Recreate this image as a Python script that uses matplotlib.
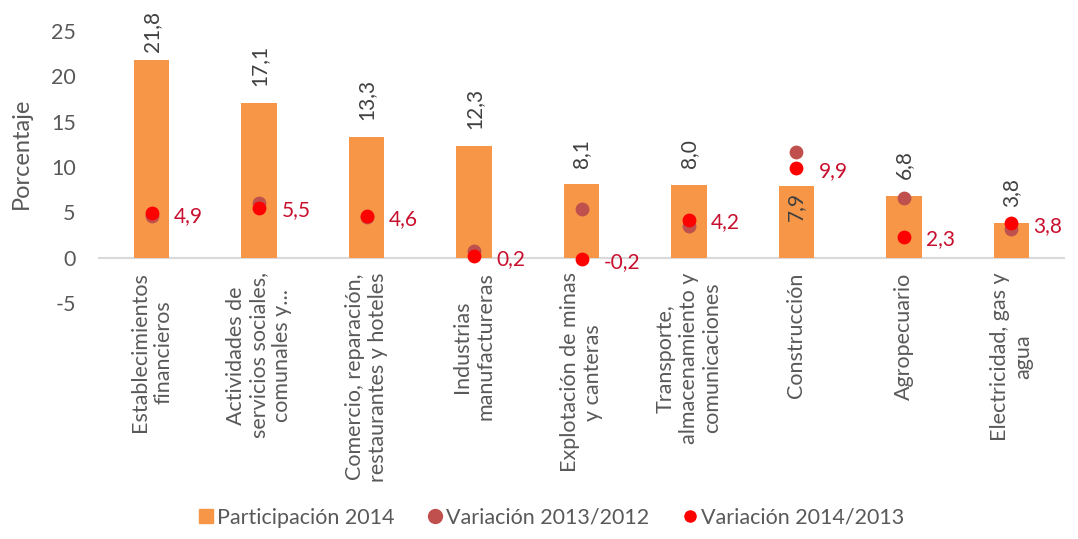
import matplotlib.pyplot as plt
from matplotlib.lines import Line2D
import numpy as np

categories = [
    "Establecimientos\nfinancieros",
    "Actividades de\nservicios sociales,\ncomunales y...",
    "Comercio, reparación,\nrestaurantes y hoteles",
    "Industrias\nmanufactureras",
    "Explotación de minas\ny canteras",
    "Transporte,\nalmacenamiento y\ncomunicaciones",
    "Construcción",
    "Agropecuario",
    "Electricidad, gas y\nagua",
]
participacion_2014 = [21.8, 17.1, 13.3, 12.3, 8.1, 8.0, 7.9, 6.8, 3.8]
variacion_2013_2012 = [4.6, 6.0, 4.5, 0.7, 5.4, 3.5, 11.6, 6.6, 3.2]
variacion_2014_2013 = [4.9, 5.5, 4.6, 0.2, -0.2, 4.2, 9.9, 2.3, 3.8]
yticks = [-5, 0, 5, 10, 15, 20, 25]

BAR = "#F79646"
DARK = "#C0504D"
RED = "#FF0000"
LABEL_RED = "#C8102E"
GRAY = "#595959"

plt.rcParams["font.family"] = ["Lato", "DejaVu Sans"]
plt.rcParams["axes.unicode_minus"] = False

fig = plt.figure(figsize=(10.78, 5.39), dpi=100)
ax = fig.add_axes([98 / 1078, 1 - 303 / 539, 967 / 1078, 272 / 539])

x = np.arange(len(categories))
ax.bar(x, participacion_2014, width=0.33, color=BAR, zorder=2)
ax.scatter(x, variacion_2013_2012, s=80, color=DARK, zorder=3)
ax.scatter(x, variacion_2014_2013, s=80, color=RED, zorder=4)


def fmt(v):
    return f"{v:.1f}".replace(".", ",")


for xi, v in zip(x, participacion_2014):
    if categories[xi] == "Construcción":
        ax.annotate(fmt(v), (xi, v), xytext=(0, -4), textcoords="offset points",
                    rotation=90, ha="center", va="top", fontsize=15, color="#404040", zorder=5)
    else:
        off = 6 if v > 20 else 12
        ax.annotate(fmt(v), (xi, v), xytext=(0, off), textcoords="offset points",
                    rotation=90, ha="center", va="bottom", fontsize=15, color="#404040",
                    annotation_clip=False)

for xi, v in zip(x, variacion_2014_2013):
    ax.annotate(fmt(v), (xi, v), xytext=(16, -2), textcoords="offset points",
                ha="left", va="center", fontsize=15, color=LABEL_RED)

ax.set_xlim(-0.5, len(categories) - 0.5)
ax.set_ylim(-5, 25)
ax.set_yticks(yticks)
ax.tick_params(axis="y", length=0, labelsize=15.5, labelcolor=GRAY, pad=16)
ax.axhline(0, color="#D9D9D9", lw=1.5, zorder=1)
for s in ax.spines.values():
    s.set_visible(False)

ax.set_xticks(x)
ax.set_xticklabels(categories, rotation=90, ha="center", va="top", fontsize=15.5,
                   color=GRAY, multialignment="center", linespacing=1.2)
ax.tick_params(axis="x", length=0, pad=-22)
ax.set_ylabel("Porcentaje", fontsize=17, color=GRAY)
ax.yaxis.set_label_coords(-0.068, 0.55)

handles = [
    Line2D([], [], ls="none", marker="s", ms=10, color=BAR),
    Line2D([], [], ls="none", marker="o", ms=10, color=DARK),
    Line2D([], [], ls="none", marker="o", ms=8, color=RED),
]
labels = ["Participación 2014", "Variación 2013/2012", "Variación 2014/2013"]
fig.legend(handles, labels, loc="lower center", bbox_to_anchor=(0.51, -0.015), ncol=3,
           frameon=False, fontsize=15.5, labelcolor=GRAY, handletextpad=0.0,
           columnspacing=1.4, handlelength=1.0)

fig.savefig("out.png", dpi=100)
